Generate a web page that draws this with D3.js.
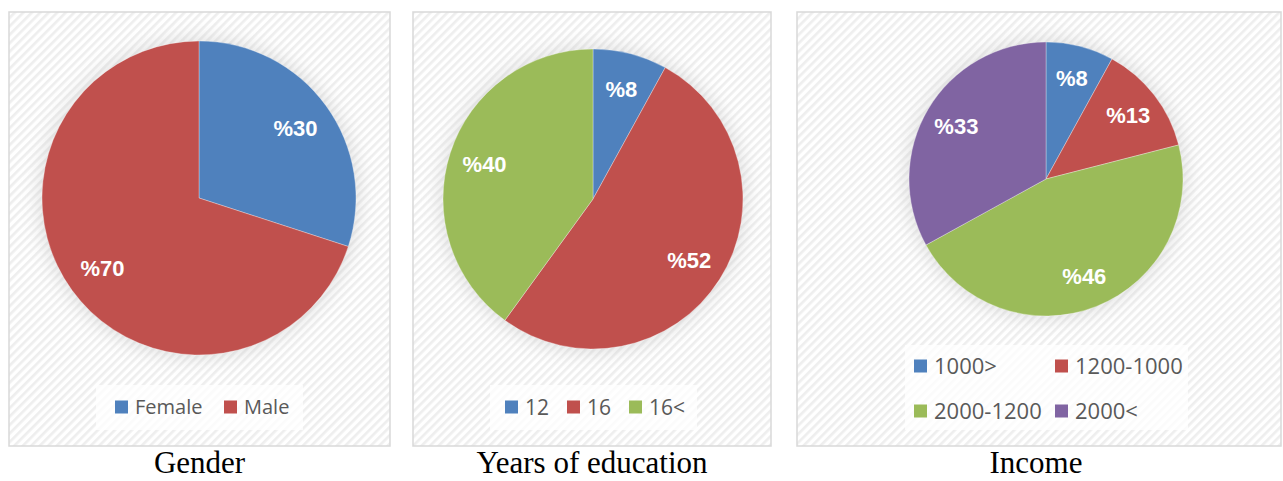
<!DOCTYPE html>
<html>
<head>
<meta charset="utf-8">
<script src="https://cdn.jsdelivr.net/npm/d3@7"></script>
<style>
  body { margin: 0; background: #fff; }
  svg { display: block; }
</style>
</head>
<body>
<svg id="chart" width="1283" height="481"></svg>
<script>
// data
const genderLabels = ["Female", "Male"];
const genderValues = [30, 70];

const eduLabels = ["12", "16", "16<"];
const eduValues = [8, 52, 40];

const incomeLabels = ["1000>", "1200-1000", "2000-1200", "2000<"];
const incomeValues = [8, 13, 46, 33];

const titles = ["Gender", "Years of education", "Income"];

const colors = ["#4f81bd", "#c0504d", "#9bbb59", "#8064a2"];

const svg = d3.select("#chart");
const defs = svg.append("defs");

// hatched panel background
const pat = defs.append("pattern")
    .attr("id", "hatch")
    .attr("patternUnits", "userSpaceOnUse")
    .attr("width", 6).attr("height", 6)
    .attr("patternTransform", "rotate(45)");
pat.append("rect").attr("width", 6).attr("height", 6).attr("fill", "#ffffff");
pat.append("rect").attr("width", 2.6).attr("height", 6).attr("fill", "#eeeeee");

const blur = defs.append("filter").attr("id", "glow")
    .attr("x", "-30%").attr("y", "-30%").attr("width", "160%").attr("height", "160%");
blur.append("feGaussianBlur").attr("stdDeviation", 9);

const charts = [
    {labels: genderLabels, values: genderValues, x0: 9, x1: 390, cx: 199, cy: 198, r: 157,
     legend: {x: 96, y: 385, w: 207, h: 45, font: 20, items: [[115, 407], [224, 407]]}},
    {labels: eduLabels, values: eduValues, x0: 413, x1: 771, cx: 593, cy: 199, r: 150,
     legend: {x: 490, y: 385, w: 207, h: 45, font: 21, items: [[505, 407], [567, 407], [629, 407]]}},
    {labels: incomeLabels, values: incomeValues, x0: 797, x1: 1281, cx: 1046, cy: 179, r: 137,
     legend: {x: 905, y: 345, w: 283, h: 85, font: 22, items: [[914, 366], [1055, 366], [914, 411], [1055, 411]]}}
];

const pie = d3.pie().sort(null).value(d => d);

charts.forEach((c, ci) => {
    const g = svg.append("g");

    g.append("rect")
        .attr("x", c.x0).attr("y", 12)
        .attr("width", c.x1 - c.x0).attr("height", 434)
        .attr("fill", "url(#hatch)")
        .attr("stroke", "#d9d9d9")
        .attr("stroke-width", 1.5);

    // soft shadow round the pie
    g.append("circle")
        .attr("cx", c.cx).attr("cy", c.cy).attr("r", c.r + 3)
        .attr("fill", "#bdbdbd")
        .attr("opacity", 0.45)
        .attr("filter", "url(#glow)");

    const arc = d3.arc().innerRadius(0).outerRadius(c.r);
    const labelArc = d3.arc().innerRadius(c.r * 0.76).outerRadius(c.r * 0.76);
    const arcs = pie(c.values);

    const pg = g.append("g").attr("transform", `translate(${c.cx},${c.cy})`);
    pg.selectAll("path")
        .data(arcs)
        .enter().append("path")
        .attr("d", arc)
        .attr("fill", (d, i) => colors[i])
        .attr("stroke", "#ffffff")
        .attr("stroke-opacity", 0.4)
        .attr("stroke-width", 0.8);

    pg.selectAll("text")
        .data(arcs)
        .enter().append("text")
        .attr("transform", d => `translate(${labelArc.centroid(d)})`)
        .attr("dy", "0.36em")
        .attr("text-anchor", "middle")
        .style("font", "bold 22px 'Liberation Sans', Arial, sans-serif")
        .attr("fill", "#ffffff")
        .text(d => "%" + d.value);

    // legend
    const L = c.legend;
    g.append("rect")
        .attr("x", L.x).attr("y", L.y)
        .attr("width", L.w).attr("height", L.h)
        .attr("fill", "#ffffff").attr("opacity", 0.75);

    c.labels.forEach((lab, i) => {
        const [lx, ly] = L.items[i];
        g.append("rect")
            .attr("x", lx).attr("y", ly - 6.5)
            .attr("width", 13).attr("height", 13)
            .attr("fill", colors[i]);
        g.append("text")
            .attr("x", lx + 20).attr("y", ly)
            .attr("dy", "0.36em")
            .style("font", `${L.font}px 'Open Sans', sans-serif`)
            .attr("fill", "#595959")
            .text(lab);
    });

    // caption under the panel
    svg.append("text")
        .attr("x", (c.x0 + c.x1) / 2 - (ci === 2 ? 3 : 0))
        .attr("y", 473)
        .attr("text-anchor", "middle")
        .style("font", "31px 'Liberation Serif', 'Times New Roman', serif")
        .attr("fill", "#000")
        .text(titles[ci]);
});
</script>
</body>
</html>
